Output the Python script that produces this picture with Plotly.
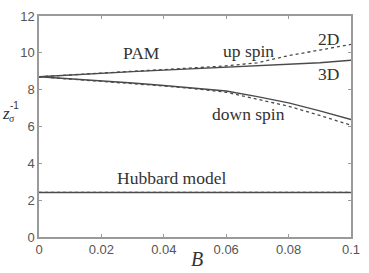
import plotly.graph_objects as go

B = [0, 0.01, 0.02, 0.03, 0.04, 0.05, 0.06, 0.07, 0.08, 0.09, 0.1]
up_3d = [8.70, 8.80, 8.89, 8.98, 9.06, 9.14, 9.22, 9.28, 9.34, 9.46, 9.60]
up_2d = [8.70, 8.81, 8.91, 9.00, 9.09, 9.18, 9.29, 9.46, 9.85, 10.15, 10.46]
down_3d = [8.70, 8.60, 8.48, 8.36, 8.23, 8.09, 7.93, 7.62, 7.28, 6.85, 6.38]
down_2d = [8.70, 8.58, 8.45, 8.33, 8.20, 8.05, 7.86, 7.48, 7.10, 6.60, 6.07]
hub_3d = [2.42] * len(B)
hub_2d = [2.42] * len(B)

x_ticks = [0, 0.02, 0.04, 0.06, 0.08, 0.1]
x_tick_labels = ["0", "0.02", "0.04", "0.06", "0.08", "0.1"]
y_ticks = [0, 2, 4, 6, 8, 10, 12]

LINE = "#4a4a4a"
AX = "#9a9a9a"
SERIF = "Liberation Serif"

fig = go.Figure()
for ys, dash in [(up_3d, "solid"), (up_2d, "dot"), (down_3d, "solid"),
                 (down_2d, "dot"), (hub_3d, "solid"), (hub_2d, "dot")]:
    fig.add_trace(go.Scatter(x=B, y=ys, mode="lines",
                             line=dict(color=LINE, width=1.4 if dash == "solid" else 1.3, dash=dash),
                             showlegend=False, hoverinfo="skip"))

labels = [
    ("PAM", 0.0327, 9.98),
    ("up spin", 0.0671, 10.1),
    ("2D", 0.0928, 10.77),
    ("3D", 0.0928, 8.87),
    ("down spin", 0.0671, 6.69),
    ("Hubbard model", 0.0424, 3.19),
]
for t, x, y in labels:
    fig.add_annotation(x=x, y=y, text=t, showarrow=False,
                       font=dict(family=SERIF, size=17.5, color="#333"),
                       xanchor="center", yanchor="middle")

# axis titles
fig.add_annotation(xref="paper", yref="paper", x=0.505, y=0, yshift=-22,
                   text="<i>B</i>", showarrow=False, xanchor="center", yanchor="middle",
                   font=dict(family=SERIF, size=20, color="#333"))
fig.add_annotation(xref="paper", yref="paper", x=0, xshift=-39, y=0.56, text="<i>z</i>",
                   showarrow=False, xanchor="left", yanchor="middle",
                   font=dict(family=SERIF, size=17, color="#333"))
fig.add_annotation(xref="paper", yref="paper", x=0, xshift=-32, y=0.56, yshift=-5, text="σ",
                   showarrow=False, xanchor="left", yanchor="middle",
                   font=dict(family=SERIF, size=10, color="#333"))
fig.add_annotation(xref="paper", yref="paper", x=0, xshift=-31, y=0.56, yshift=8, text="-1",
                   showarrow=False, xanchor="left", yanchor="middle",
                   font=dict(family="Liberation Sans", size=10, color="#333"))

axis_common = dict(showline=True, linecolor=AX, linewidth=1.5, mirror="ticks",
                   ticks="inside", ticklen=3, tickcolor=AX, showgrid=False, zeroline=False,
                   ticklabeloverflow="allow",
                   tickfont=dict(family="Liberation Sans", size=13, color="#555"))
fig.update_xaxes(range=[0, 0.1], tickvals=x_ticks, ticktext=x_tick_labels, **axis_common)
fig.update_yaxes(range=[0, 12], tickvals=y_ticks, **axis_common)

fig.update_layout(width=369, height=273, margin=dict(l=39, r=9, t=9, b=36),
                  plot_bgcolor="white", paper_bgcolor="white")
fig.write_html("out.html", config={"displayModeBar": False},
               post_script="document.body.style.margin='0';document.body.style.overflow='hidden';")
